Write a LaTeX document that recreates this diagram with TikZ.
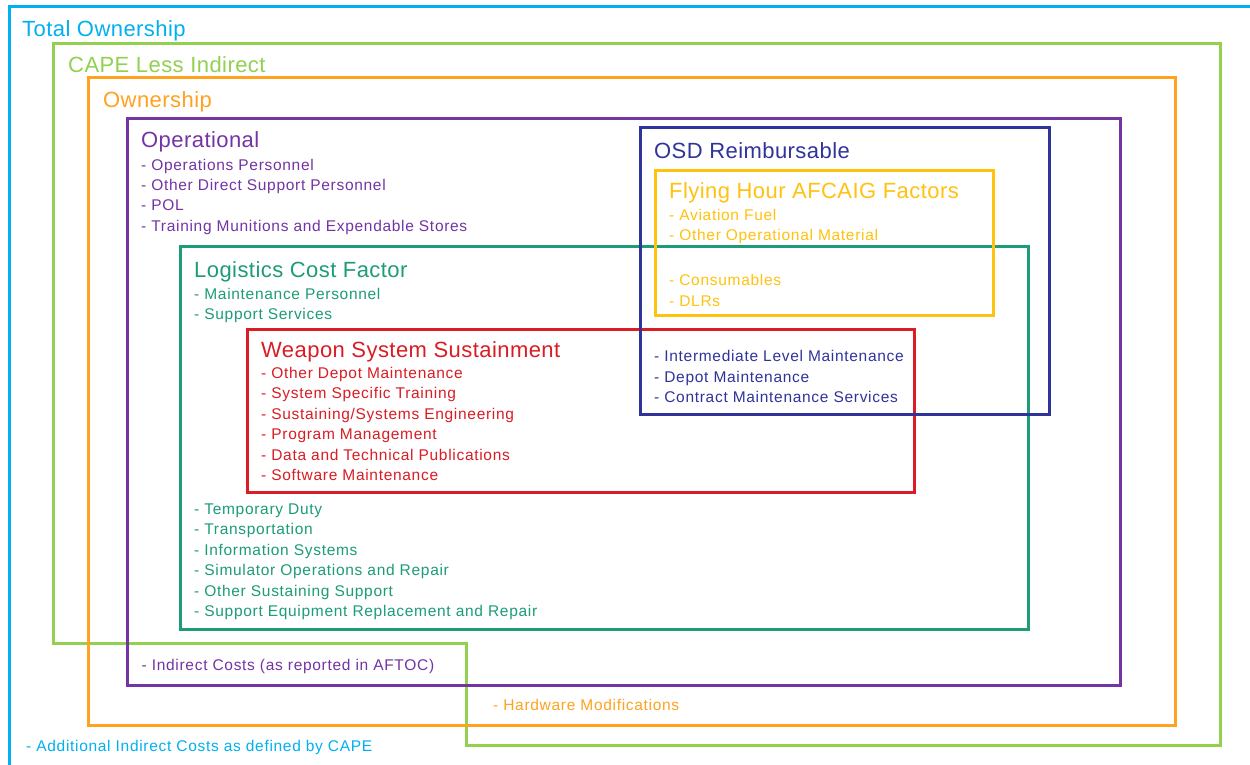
\documentclass[tikz,border=0pt]{standalone}
\usepackage{fontspec}
\setmainfont{Liberation Sans}
\newfontfamily\headfont[LetterSpace=2]{Liberation Sans}
\newfontfamily\listfont[LetterSpace=4.5]{Liberation Sans}
\definecolor{sky}{HTML}{00B0F0}
\definecolor{leaf}{HTML}{92D050}
\definecolor{amber}{HTML}{FFA21F}
\definecolor{plum}{HTML}{7434A4}
\definecolor{navy}{HTML}{30349A}
\definecolor{gold}{HTML}{FFC20E}
\definecolor{jade}{HTML}{1C9C78}
\definecolor{crimson}{HTML}{DA1C24}
\begin{document}
\begin{tikzpicture}[x=1pt,y=-1pt,frame/.style={line width=3pt},head/.style={anchor=base west,inner sep=0pt,font=\headfont\fontsize{22}{26}\selectfont},items/.style={anchor=north west,inner sep=0pt,align=left,font=\listfont\fontsize{15.5}{20.4}\selectfont},item/.style={anchor=base west,inner sep=0pt,font=\listfont\fontsize{15.5}{20.4}\selectfont}]
\useasboundingbox[fill=white] (0,0) rectangle (1250,765);
\begin{scope}
\clip (0,0) rectangle (1250,765);
\draw[frame,sky] (9.5,7) rectangle (1262,780);
\end{scope}
\draw[frame,leaf] (53,44) -- (1220,44) -- (1220,745) -- (466,745) -- (466,643) -- (53,643) -- cycle;
\draw[frame,amber] (88,78) rectangle (1175,725);
\draw[frame,plum] (127,119) rectangle (1120,685);
\draw[frame,jade] (180,246) rectangle (1028,629);
\draw[frame,crimson] (247,329) rectangle (914,492);
\draw[frame,navy] (640,128) rectangle (1049,414);
\draw[frame,gold] (655,170) rectangle (993,315);
\node[head,sky] (total) at (22,37) {Total Ownership};
\node[item,sky] (additional) at (26,751) {- Additional Indirect Costs as defined by CAPE};
\node[head,leaf] (cape) at (68,73) {CAPE Less Indirect};
\node[head,amber] (ownership) at (103,108) {Ownership};
\node[item,amber] (hardware) at (493,710) {- Hardware Modifications};
\node[head,plum] (operational) at (141,148) {Operational};
\node[items,plum] (opslist) at (141,158.7) {- Operations Personnel\\- Other Direct Support Personnel\\- POL\\- Training Munitions and Expendable Stores};
\node[item,plum] (indirect) at (141.5,670) {- Indirect Costs (as reported in AFTOC)};
\node[head,navy] (osd) at (654,158.3) {OSD Reimbursable};
\node[items,navy] (osdlist) at (654,350.5) {- Intermediate Level Maintenance\\- Depot Maintenance\\- Contract Maintenance Services};
\node[head,gold] (flying) at (669,198.3) {Flying Hour AFCAIG Factors};
\node[items,gold] (fuel) at (669,208.7) {- Aviation Fuel\\- Other Operational Material};
\node[items,gold] (spares) at (669,274.4) {- Consumables\\- DLRs};
\node[head,jade] (logistics) at (194,277.3) {Logistics Cost Factor};
\node[items,jade] (loglist) at (194,288) {- Maintenance Personnel\\- Support Services};
\node[items,jade] (loglower) at (194,503.7) {- Temporary Duty\\- Transportation\\- Information Systems\\- Simulator Operations and Repair\\- Other Sustaining Support\\- Support Equipment Replacement and Repair};
\node[head,crimson] (wss) at (261,357.3) {Weapon System Sustainment};
\node[items,crimson] (wsslist) at (261,367) {- Other Depot Maintenance\\- System Specific Training\\- Sustaining/Systems Engineering\\- Program Management\\- Data and Technical Publications\\- Software Maintenance};
\end{tikzpicture}
\end{document}
